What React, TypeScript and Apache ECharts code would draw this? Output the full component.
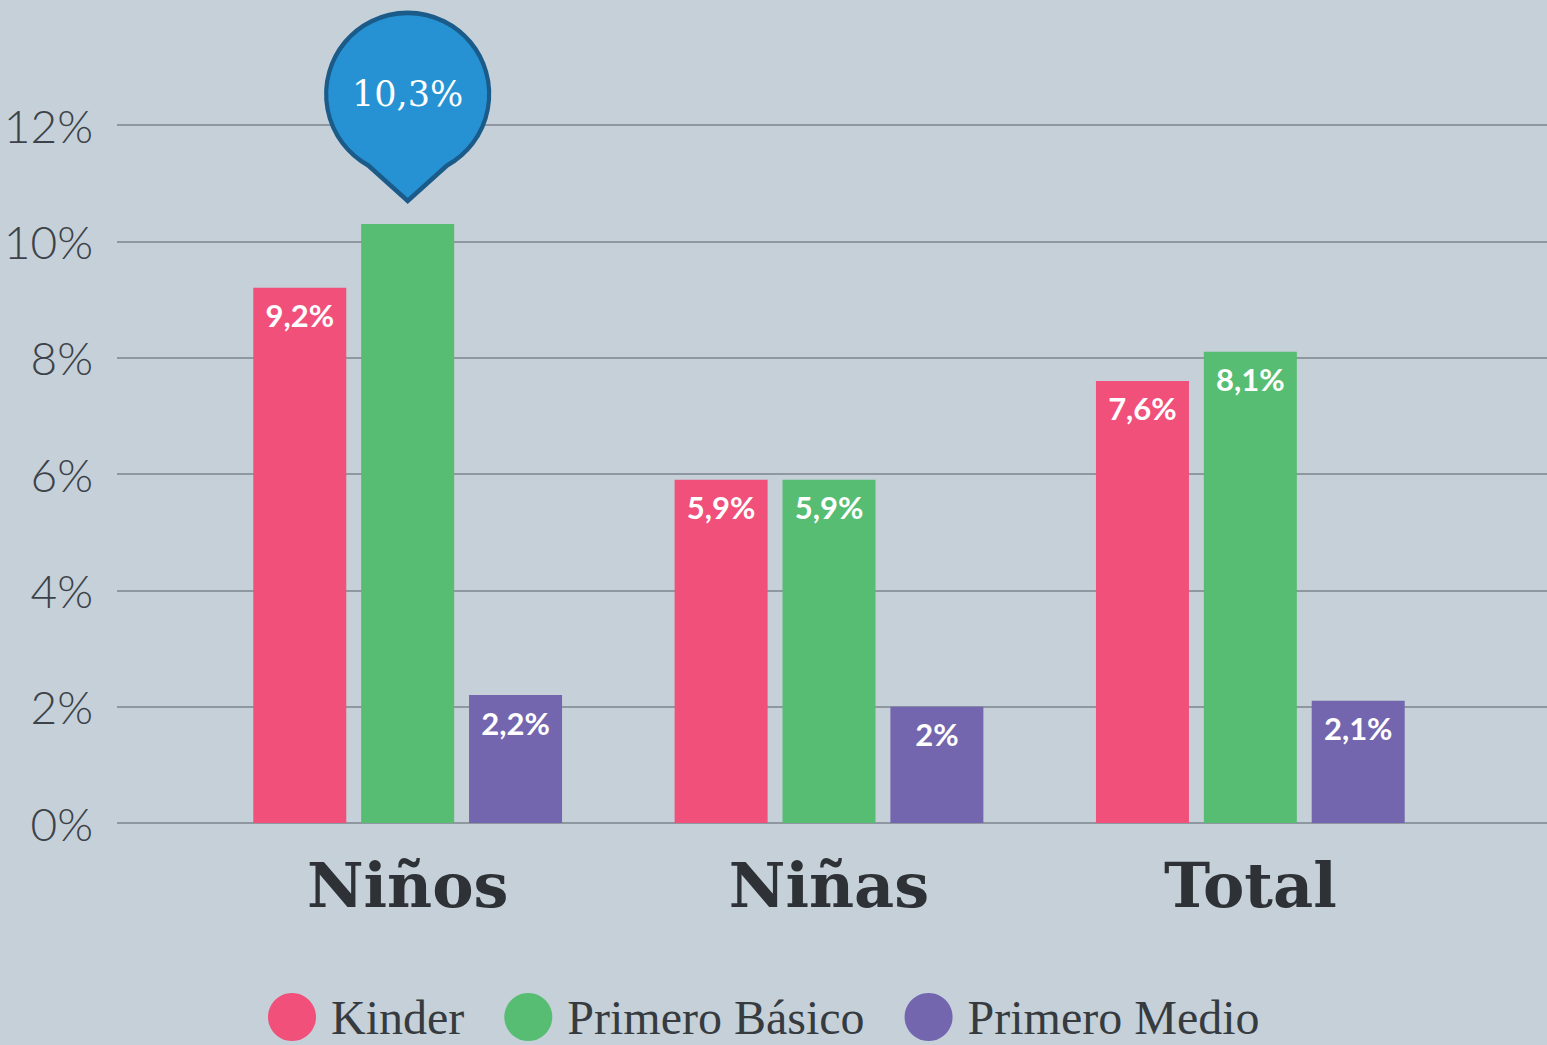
import React, { useEffect, useRef } from "react";
import * as echarts from "echarts";

const categories = ["Niños", "Niñas", "Total"];
const seriesNames = ["Kinder", "Primero Básico", "Primero Medio"];
const kinder = [9.2, 5.9, 7.6];
const primeroBasico = [10.3, 5.9, 8.1];
const primeroMedio = [2.2, 2.0, 2.1];
const yTicks = [0, 2, 4, 6, 8, 10, 12];
const highlight = { category: "Niños", value: 10.3, text: "10,3%" };

const colors = ["#F0507A", "#56BD72", "#7366AE"];

const fmt = (v: number) => String(v).replace(".", ",") + "%";

export default function App() {
  const ref = useRef<HTMLDivElement>(null);
  useEffect(() => {
    if (!ref.current) return;
    const chart = echarts.init(ref.current, null, { renderer: "svg" });
    const labelStyle = {
      show: true,
      position: "insideTop" as const,
      distance: 12,
      color: "#ffffff",
      fontFamily: "Lato, 'Open Sans', sans-serif",
      fontWeight: "bold" as const,
      fontSize: 31,
      formatter: (p: any) => fmt(p.value),
    };
    const pinPath = "path://M80,185 L41.2,150 A80,80 0 1 1 118.8,150 Z";
    const option: any = {
      animation: false,
      backgroundColor: "#C5D0D9",
      grid: [
        { left: 197, right: 86, top: 125, bottom: 222 },
        { left: 117, right: 0, top: 125, bottom: 222 },
      ],
      legend: {
        data: seriesNames,
        left: 268,
        top: 993,
        padding: 0,
        icon: "circle",
        itemWidth: 48,
        itemHeight: 48,
        itemGap: 40,
        textStyle: {
          fontFamily: "'Liberation Serif', serif",
          fontSize: 48,
          lineHeight: 40,
          color: "#363B40",
          padding: [0, 0, 0, 10],
        },
      },
      xAxis: [
        {
          type: "category",
          gridIndex: 0,
          data: categories,
          axisLine: { show: false },
          axisTick: { show: false },
          axisLabel: {
            margin: 31,
            fontFamily: "'DejaVu Serif', serif",
            fontWeight: "bold",
            fontSize: 62,
            color: "#2E3236",
          },
        },
        { type: "value", gridIndex: 1, show: false, min: 0, max: 1 },
      ],
      yAxis: [
        { type: "value", gridIndex: 0, min: 0, max: 12, interval: 2, show: false },
        {
          type: "value",
          gridIndex: 1,
          min: yTicks[0],
          max: yTicks[yTicks.length - 1],
          interval: yTicks[1] - yTicks[0],
          axisLine: { show: false },
          axisTick: { show: false },
          splitLine: { lineStyle: { color: "#7D858C", width: 1.5 } },
          axisLabel: {
            margin: 24,
            formatter: "{value}%",
            fontFamily: "Lato, sans-serif",
            fontWeight: 300,
            fontSize: 46,
            color: "#3C4248",
          },
        },
      ],
      series: [
        {
          name: seriesNames[0],
          type: "bar",
          xAxisIndex: 0,
          yAxisIndex: 0,
          data: kinder,
          barWidth: 93,
          barGap: "16%",
          itemStyle: { color: colors[0] },
          label: labelStyle,
        },
        {
          name: seriesNames[1],
          type: "bar",
          xAxisIndex: 0,
          yAxisIndex: 0,
          data: primeroBasico,
          barWidth: 93,
          barGap: "16%",
          itemStyle: { color: colors[1] },
          label: {
            ...labelStyle,
            formatter: (p: any) => (p.name === highlight.category ? "" : fmt(p.value)),
          },
          markPoint: {
            symbol: pinPath,
            symbolSize: [163, 188],
            symbolOffset: [0, -117],
            itemStyle: { color: "#2792D3", borderColor: "#1B5B8A", borderWidth: 4.5 },
            label: {
              show: true,
              position: "inside",
              offset: [0, -13],
              formatter: highlight.text,
              color: "#ffffff",
              fontFamily: "'DejaVu Serif', serif",
              fontSize: 35,
            },
            data: [{ coord: [highlight.category, highlight.value] }],
          },
        },
        {
          name: seriesNames[2],
          type: "bar",
          xAxisIndex: 0,
          yAxisIndex: 0,
          data: primeroMedio,
          barWidth: 93,
          barGap: "16%",
          itemStyle: { color: colors[2] },
          label: labelStyle,
        },
      ],
    };
    chart.setOption(option);
    return () => chart.dispose();
  }, []);
  return (
    <div
      ref={ref}
      style={{ position: "fixed", left: 0, top: 0, width: 1547, height: 1045 }}
    />
  );
}
